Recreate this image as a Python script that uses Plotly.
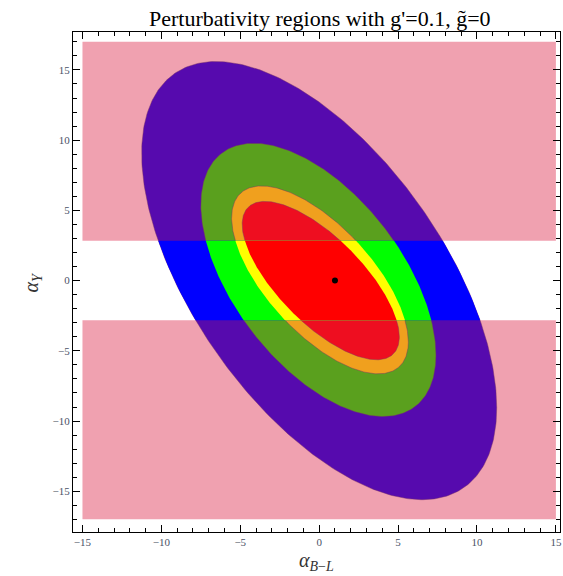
import numpy as np
import plotly.graph_objects as go

# ---- data ----
region_names = ["outer", "middle", "inner", "core"]
center_x = [0.0, -0.05, 0.05, 0.1]
center_y = [0.0, 0.05, 0.05, 0.0]
half_width = [11.25, 7.45, 5.6, 4.98]      # x half-extent
half_height = [15.6, 9.73, 6.69, 5.64]     # y half-extent
correlation = [-0.58, -0.55, -0.66, -0.71]  # tilt of each region

colors_outside = ["#560AAE", "#5AA01E", "#F0A01E", "#EE0E20"]
colors_inside = ["#0000FF", "#00FF00", "#FFFF00", "#FF0000"]

band_limit = 2.83          # |alpha_Y| limit of the white band
pink_x = [-15, 15]
pink_y_max = 17.0
pink_color = "#F0A1B0"

point_x = [1.0]
point_y = [0.0]

x_ticks = [-15, -10, -5, 0, 5, 10, 15]
y_ticks = [-15, -10, -5, 0, 5, 10, 15]


def ellipse(cx, cy, a, b, rho, n=400):
    t = np.linspace(0, 2 * np.pi, n)
    x = cx + a * np.cos(t)
    y = cy + b * (rho * np.cos(t) + np.sqrt(1 - rho ** 2) * np.sin(t))
    return x, y


def clip(xs, ys, inside, intersect):
    pts = list(zip(xs, ys))
    out = []
    for i in range(len(pts)):
        cur = pts[i]
        prev = pts[i - 1]
        if inside(cur):
            if not inside(prev):
                out.append(intersect(prev, cur))
            out.append(cur)
        elif inside(prev):
            out.append(intersect(prev, cur))
    return out


def clip_band(xs, ys, h):
    def inter_at(yv):
        def f(p, q):
            t = (yv - p[1]) / (q[1] - p[1])
            return (p[0] + t * (q[0] - p[0]), yv)
        return f
    pts = clip(xs, ys, lambda p: p[1] <= h, inter_at(h))
    if not pts:
        return [], []
    px, py = zip(*pts)
    pts = clip(px, py, lambda p: p[1] >= -h, inter_at(-h))
    if not pts:
        return [], []
    px, py = zip(*pts)
    return list(px) + [px[0]], list(py) + [py[0]]


fig = go.Figure()

# pink bands
for sgn in (1, -1):
    y0, y1 = sgn * band_limit, sgn * pink_y_max
    fig.add_trace(go.Scatter(
        x=[pink_x[0], pink_x[1], pink_x[1], pink_x[0], pink_x[0]],
        y=[y0, y0, y1, y1, y0],
        fill="toself", fillcolor=pink_color, mode="lines",
        line=dict(width=0), hoverinfo="skip", showlegend=False))

# full regions (colours outside the band)
for i in range(len(region_names)):
    ex, ey = ellipse(center_x[i], center_y[i], half_width[i], half_height[i], correlation[i])
    fig.add_trace(go.Scatter(
        x=ex, y=ey, fill="toself", fillcolor=colors_outside[i], mode="lines",
        line=dict(width=0.8, color="rgba(120,50,100,0.55)"),
        hoverinfo="skip", showlegend=False, name=region_names[i]))

# regions inside the band
for i in range(len(region_names)):
    ex, ey = ellipse(center_x[i], center_y[i], half_width[i], half_height[i], correlation[i])
    bx, by = clip_band(ex, ey, band_limit)
    fig.add_trace(go.Scatter(
        x=bx, y=by, fill="toself", fillcolor=colors_inside[i], mode="lines",
        line=dict(width=0), hoverinfo="skip", showlegend=False))

fig.add_trace(go.Scatter(x=point_x, y=point_y, mode="markers",
                         marker=dict(color="black", size=6),
                         hoverinfo="skip", showlegend=False))

axis_common = dict(
    showgrid=False, zeroline=False, showline=True, linecolor="black", linewidth=1,
    mirror="ticks", ticks="inside", ticklen=7, tickcolor="black", tickwidth=1,
    tickfont=dict(family="Liberation Serif", size=11, color="#4a5266"),
    ticklabeloverflow="allow",
    minor=dict(dtick=1, ticks="inside", ticklen=4, tickcolor="black", tickwidth=1),
)

fig.update_xaxes(range=[-15.6, 15.26], tickvals=x_ticks, **axis_common)
fig.update_yaxes(range=[-17.9, 17.7], tickvals=y_ticks, **axis_common)

fig.update_layout(
    width=563, height=576,
    margin=dict(l=73, r=1, t=32, b=44),
    plot_bgcolor="white", paper_bgcolor="white",
    title=dict(text="Perturbativity regions with g'=0.1, g\u0303=0",
               x=0.568, xanchor="center", y=0.969, yanchor="middle",
               font=dict(family="Liberation Serif", size=22, color="black")),
    annotations=[
        dict(text="<i>α</i><sub><i>B</i>−<i>L</i></sub>", xref="paper", yref="paper",
             x=0.5, y=-0.03, xanchor="center", yanchor="top", showarrow=False,
             font=dict(family="Liberation Serif", size=20, color="#333")),
        dict(text="<i>α</i><sub><i>Y</i></sub>", xref="paper", yref="paper",
             x=-0.085, y=0.5, xanchor="center", yanchor="middle", showarrow=False,
             textangle=-90, font=dict(family="Liberation Serif", size=20, color="#333")),
    ],
)

fig.write_html("out.html", config={"displayModeBar": False},
               post_script="document.body.style.margin='0';document.body.style.overflow='hidden';")
